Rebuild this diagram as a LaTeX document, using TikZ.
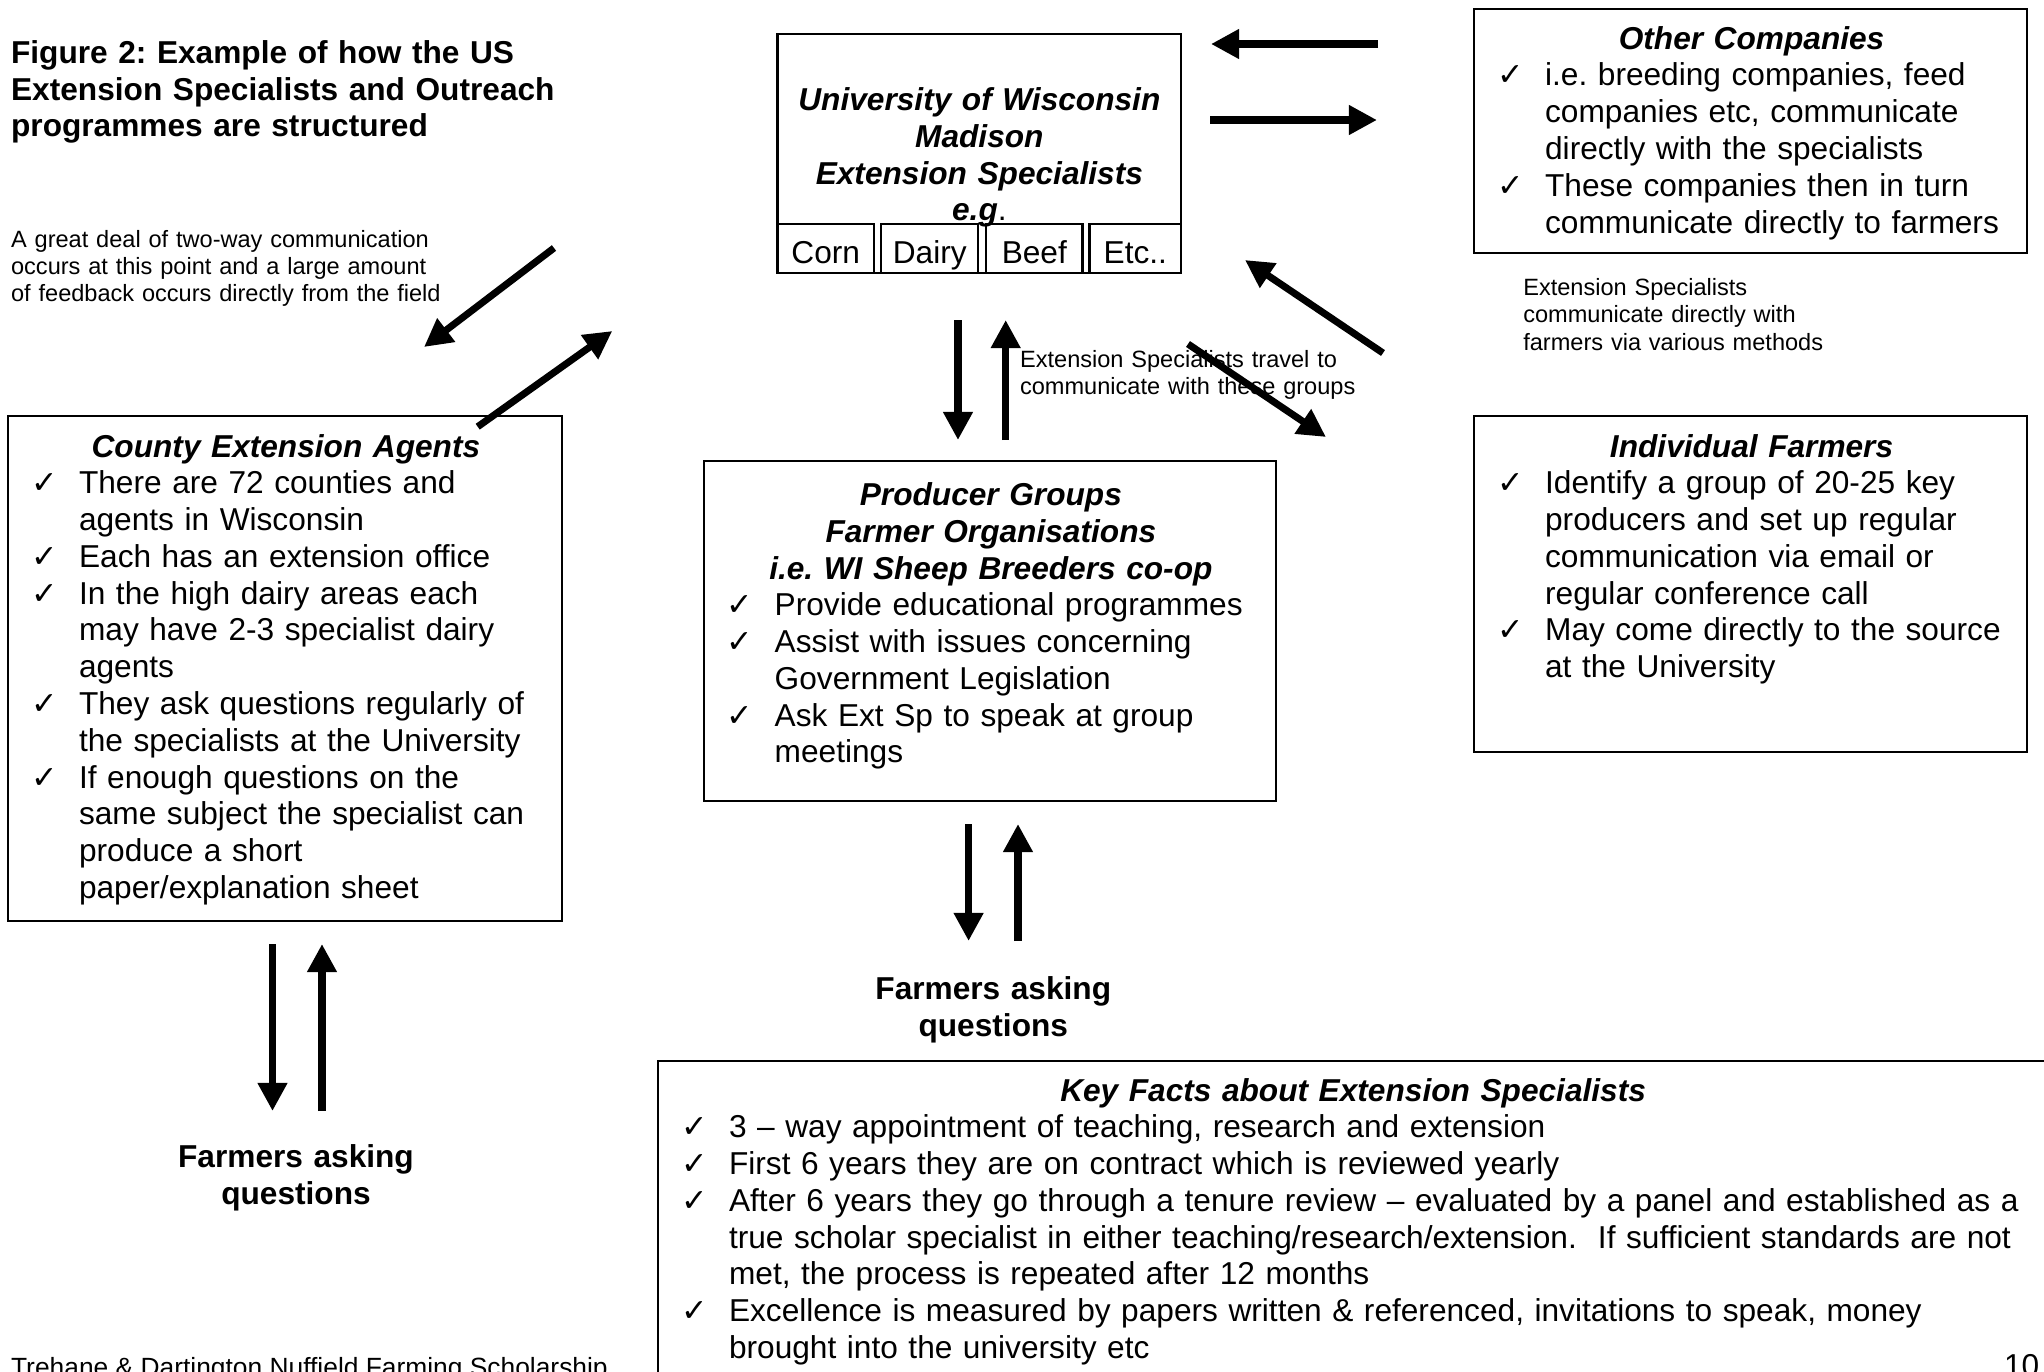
\documentclass[tikz,border=0pt]{standalone}
\usepackage{fontspec}
\setmainfont{Liberation Sans}
\newfontfamily\tickfont{DejaVu Sans}
\usetikzlibrary{arrows.meta, positioning}

\frenchspacing
\newcommand{\bodyfont}{\fontsize{9}{10.46}\selectfont}
\newcommand{\notefont}{\fontsize{6.7}{7.79}\selectfont}
\newcommand{\boxtitle}[1]{\raggedright{\centering\bfseries\itshape #1\par}}
\newcommand{\tickitem}{\par\noindent\hangindent=0.70cm\hangafter=1
  \makebox[0.70cm][l]{\hspace*{0.22cm}{\tickfont\fontsize{9}{9}\selectfont ✓}}\ignorespaces}

\begin{document}
\begin{tikzpicture}[
    x=0.01cm, y=-0.01cm,
    box/.style={draw, line width=0.6pt, inner sep=0pt, outer sep=0pt, anchor=north west},
    subbox/.style={draw, line width=0.6pt, inner sep=0pt, outer sep=0pt,
                   minimum height=0.484cm, text height=0.30cm, text depth=0pt, font=\bodyfont},
    boxtext/.style={anchor=base west, inner sep=0pt, font=\bodyfont},
    note/.style={anchor=base west, inner sep=0pt, text width=4.6cm, align=left, font=\notefont},
    asking/.style={anchor=base, inner sep=0pt, text width=3cm, align=center, font=\bodyfont\bfseries},
    arr/.style={-{Triangle[length=0.28cm, width=0.28cm]}, line width=2pt},
]
\useasboundingbox (0,0) rectangle (2044,1372);

% heading and notes
\node[anchor=base west, inner sep=0pt, text width=6cm, align=left, font=\bodyfont\bfseries]
  (figtitle) at (10.4,63.4) {Figure 2: Example of how the US\\Extension Specialists and Outreach\\programmes are structured};
\node[note] (fieldnote) at (10.4,247.2) {A great deal of two-way communication\\occurs at this point and a large amount\\of feedback occurs directly from the field};
\node[note] (travelnote) at (1019.4,367.1) {Extension Specialists travel to\\communicate with these groups};
\node[note] (directnote) at (1522.6,295.4) {Extension Specialists\\communicate directly with\\farmers via various methods};

% University box
\node[box, minimum width=4.035cm, minimum height=2.387cm] (univ) at (777.5,34) {};
\node[anchor=base, inner sep=0pt, text width=4cm, align=center, font=\bodyfont\bfseries\itshape]
  (univtxt) at ([yshift=-0.764cm]univ.north) {University of Wisconsin\\Madison\\Extension Specialists\\e.g{\mdseries\upshape.}};
\node[subbox, anchor=south west, minimum width=0.965cm] (corn) at (univ.south west) {Corn};
\node[subbox, right=0.07cm of corn, minimum width=0.973cm] (dairy) {Dairy};
\node[subbox, right=0.077cm of dairy, minimum width=0.963cm] (beef) {Beef};
\node[subbox, right=0.07cm of beef, minimum width=0.917cm] (etc) {Etc..};

% Other Companies
\node[box, minimum width=5.526cm, minimum height=2.438cm] (othco) at (1474.4,9.1) {};
\node[boxtext, text width=5.526cm] (othcotxt) at ([yshift=-0.40cm]othco.north west) {%
  \boxtitle{Other Companies}
  \tickitem i.e. breeding companies, feed\newline companies etc, communicate\newline directly with the specialists
  \tickitem These companies then in turn\newline communicate directly to farmers\par};

% County Extension Agents
\node[box, minimum width=5.535cm, minimum height=5.044cm] (county) at (8.3,415.9) {};
\node[boxtext, text width=5.535cm] (countytxt) at ([yshift=-0.411cm]county.north west) {%
  \boxtitle{County Extension Agents}
  \tickitem There are 72 counties and\newline agents in Wisconsin
  \tickitem Each has an extension office
  \tickitem In the high dairy areas each\newline may have 2-3 specialist dairy\newline agents
  \tickitem They ask questions regularly of\newline the specialists at the University
  \tickitem If enough questions on the\newline same subject the specialist can\newline produce a short\newline paper/explanation sheet\par};

% Producer Groups
\node[box, minimum width=5.72cm, minimum height=3.394cm] (prod) at (704,461) {};
\node[boxtext, text width=5.72cm] (prodtxt) at ([yshift=-0.444cm]prod.north west) {%
  \boxtitle{Producer Groups\\Farmer Organisations\\i.e. WI Sheep Breeders co-op}
  \tickitem Provide educational programmes
  \tickitem Assist with issues concerning\newline Government Legislation
  \tickitem Ask Ext Sp to speak at group\newline meetings\par};

% Individual Farmers
\node[box, minimum width=5.526cm, minimum height=3.363cm] (indiv) at (1474.4,415.9) {};
\node[boxtext, text width=5.526cm] (indivtxt) at ([yshift=-0.411cm]indiv.north west) {%
  \boxtitle{Individual Farmers}
  \tickitem Identify a group of 20-25 key\newline producers and set up regular\newline communication via email or\newline regular conference call
  \tickitem May come directly to the source\newline at the University\par};

% Key Facts
\node[box, minimum width=13.90cm, minimum height=3.3cm] (keyfacts) at (658.3,1060.7) {};
\node[boxtext, text width=13.874cm] (keytxt) at ([yshift=-0.403cm]keyfacts.north west) {%
  \boxtitle{Key Facts about Extension Specialists}
  \tickitem 3 -- way appointment of teaching, research and extension
  \tickitem First 6 years they are on contract which is reviewed yearly
  \tickitem After 6 years they go through a tenure review -- evaluated by a panel and established as a\newline true scholar specialist in either teaching/research/extension.~ If sufficient standards are not\newline met, the process is repeated after 12 months
  \tickitem Excellence is measured by papers written \& referenced, invitations to speak, money\newline brought into the university etc\par};

\node[asking] (askcounty) at (296,1167.6) {Farmers asking\\questions};
\node[asking] (askprod) at (993.3,999.4) {Farmers asking\\questions};

\node[anchor=base west, inner sep=0pt, font=\fontsize{7.5}{9}\selectfont] (footer) at (10.4,1376) {Trehane \& Dartington Nuffield Farming Scholarship};
\node[anchor=base east, inner sep=0pt, font=\bodyfont] (pageno) at (2040,1376) {10};

% arrow ends
\coordinate (oc-a) at (1378,44);   \coordinate (un-a) at (1211,44);
\coordinate (un-b) at (1210,120);  \coordinate (oc-b) at (1377,120);
\coordinate (fa-c) at (1383,353);  \coordinate (un-c) at (1245,260);
\coordinate (un-d) at (1188,344);  \coordinate (fa-d) at (1326,437);
\coordinate (un-e) at (958,320);   \coordinate (pg-e) at (958,440);
\coordinate (pg-f) at (1005.7,440);\coordinate (un-f) at (1005.7,320);
\coordinate (pg-g) at (968.6,824); \coordinate (qs-g) at (968.6,941);
\coordinate (qs-h) at (1018,941);  \coordinate (pg-h) at (1018,824);
\coordinate (ca-i) at (272.5,944); \coordinate (qs-i) at (272.5,1111);
\coordinate (qs-j) at (322,1111);  \coordinate (ca-j) at (322,944);
\coordinate (un-k) at (554,248);   \coordinate (ca-k) at (424,347);
\coordinate (ca-l) at (477.7,426.7); \coordinate (un-l) at (612.3,331);

\draw[arr] (oc-a) -- (un-a);
\draw[arr] (un-b) -- (oc-b);
\draw[arr] (fa-c) -- (un-c);
\draw[arr] (un-d) -- (fa-d);
\draw[arr] (un-e) -- (pg-e);
\draw[arr] (pg-f) -- (un-f);
\draw[arr] (pg-g) -- (qs-g);
\draw[arr] (qs-h) -- (pg-h);
\draw[arr] (ca-i) -- (qs-i);
\draw[arr] (qs-j) -- (ca-j);
\draw[arr] (un-k) -- (ca-k);
\draw[arr] (ca-l) -- (un-l);

\end{tikzpicture}
\end{document}
